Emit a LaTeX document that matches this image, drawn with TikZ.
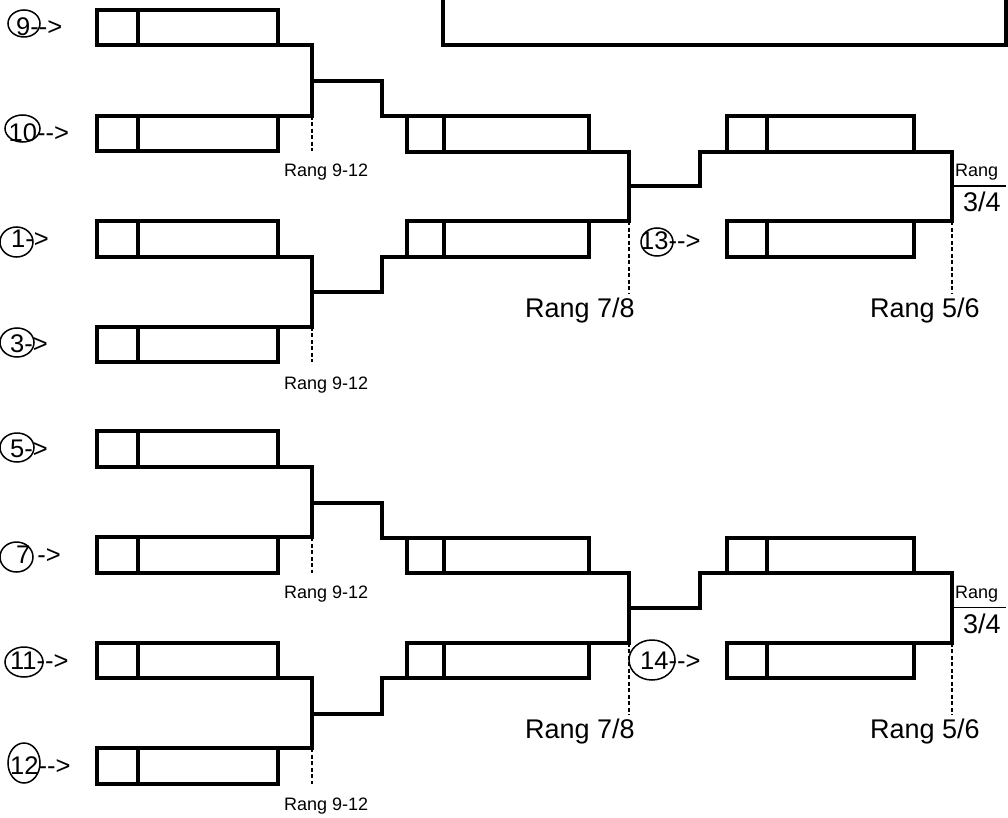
\documentclass[tikz,border=0pt]{standalone}
\usepackage{fontspec}
\setmainfont{Liberation Sans}
\usetikzlibrary{shapes.geometric,calc}
\tikzset{
 ln/.style={line width=4pt, line cap=rect, line join=miter},
 bx/.style={draw, line width=4pt, minimum height=35.5pt, inner sep=0pt, outer sep=0pt, rectangle},
 dsh/.style={line width=1.5pt, dash pattern=on 4pt off 2.5pt},
 thinline/.style={line width=1.5pt},
 ring/.style={draw, ellipse, line width=1.5pt, inner sep=0pt},
 lab/.style={anchor=base west, inner sep=0pt, font=\fontsize{25.5}{25.5}\selectfont},
 rsmall/.style={anchor=base west, inner sep=0pt, font=\fontsize{18}{18}\selectfont},
 rbig/.style={anchor=base west, inner sep=0pt, font=\fontsize{27}{27}\selectfont},
}
\newcommand\mydiv[2]{\draw[ln] ([xshift=#2]#1.north west) -- ([xshift=#2]#1.south west);}
\begin{document}
\begin{tikzpicture}[x=1pt,y=-1pt]
\useasboundingbox (0,0) rectangle (1008,818);
\clip (0,0) rectangle (1008,818);
% top box (cut by the upper edge)
\node[bx, minimum width=563pt, minimum height=75pt] (top) at (724.5,7.5) {};
\foreach \r/\dy in {a/0, b/421.5} {
 % column 1
 \node[bx, minimum width=181pt] (c1\r) at (187.5, 27.5+\dy) {};
 \node[bx, minimum width=181pt] (c2\r) at (187.5, 133.5+\dy) {};
 \node[bx, minimum width=181pt] (c3\r) at (187.5, 239+\dy) {};
 \node[bx, minimum width=181pt] (c4\r) at (187.5, 344.5+\dy) {};
 \mydiv{c1\r}{41pt}\mydiv{c2\r}{41pt}\mydiv{c3\r}{41pt}\mydiv{c4\r}{41pt}
 % column 2
 \node[bx, minimum width=182pt] (m1\r) at (498, 134+\dy) {};
 \node[bx, minimum width=182pt] (m2\r) at (498, 239+\dy) {};
 \mydiv{m1\r}{37pt}\mydiv{m2\r}{37pt}
 % column 3
 \node[bx, minimum width=187pt] (r1\r) at (820.5, 134+\dy) {};
 \node[bx, minimum width=187pt] (r2\r) at (820.5, 239+\dy) {};
 \mydiv{r1\r}{40pt}\mydiv{r2\r}{40pt}
 % junctions
 \coordinate (j1\r) at (312, 81+\dy);
 \coordinate (k1\r) at (382, 81+\dy);
 \coordinate (j2\r) at (312, 292+\dy);
 \coordinate (k2\r) at (382, 292+\dy);
 \coordinate (j3\r) at (629, 186+\dy);
 \coordinate (k3\r) at (700, 186+\dy);
 \coordinate (j4\r) at (952, 186+\dy);
 \coordinate (e4\r) at (1006, 186+\dy);
 \coordinate (d3\r) at (629, 293+\dy);
 \coordinate (d4\r) at (952, 293+\dy);
 % connectors
 \draw[ln] (c1\r.south east) -| (j1\r) |- (c2\r.north east);
 \draw[ln] (j1\r) -- (k1\r) |- (m1\r.north west);
 \draw[ln] (c3\r.south east) -| (j2\r) |- (c4\r.north east);
 \draw[ln] (j2\r) -- (k2\r) |- (m2\r.south west);
 \draw[ln] (m1\r.south east) -| (j3\r) |- (m2\r.north east);
 \draw[ln] (j3\r) -- (k3\r) |- (r1\r.south west);
 \draw[ln] (r1\r.south east) -| (j4\r) |- (r2\r.north east);
 \draw[thinline] (j4\r) -- (e4\r);
 % dashed drops
 \draw[dsh] (j1\r |- c2\r.north) -- (j1\r |- c2\r.south);
 \draw[dsh] (j2\r |- c4\r.north) -- (j2\r |- c4\r.south);
 \draw[dsh] (j3\r |- m2\r.north) -- (d3\r);
 \draw[dsh] (j4\r |- r2\r.north) -- (d4\r);
 % rank texts
 \node[rsmall] (ta\r) at (284, 177+\dy) {Rang 9-12};
 \node[rsmall] (tb\r) at (284, 389+\dy) {Rang 9-12};
 \node[rbig] (tc\r) at (525, 317+\dy) {Rang 7/8};
 \node[rbig] (td\r) at (870, 317+\dy) {Rang 5/6};
 \node[rsmall] (te\r) at (955, 177+\dy) {Rang};
 \node[rbig] (tf\r) at (963, 211.5+\dy) {3/4};
}
% entry labels
\node[ring, minimum width=32pt, minimum height=27pt] (o9) at (24,23.5) {};
\node[lab] (l9) at (16,35.5) {9-{}->};
\node[ring, minimum width=35pt, minimum height=27pt] (o10) at (22.5,128.5) {};
\node[lab] (l10) at (8.5,141.5) {10-{}->};
\node[ring, minimum width=33pt, minimum height=30pt] (o1) at (16.5,242) {};
\node[lab] (l1) at (11,247.5) {1->};
\node[ring, minimum width=34pt, minimum height=29pt] (o3) at (17,342.5) {};
\node[lab] (l3) at (10,352.5) {3->};
\node[ring, minimum width=34pt, minimum height=29pt] (o5) at (17,447.5) {};
\node[lab] (l5) at (10,457.5) {5->};
\node[ring, minimum width=33pt, minimum height=30pt] (o7) at (16.5,557) {};
\node[lab] (l7) at (16,563.5) {7 ->};
\node[ring, minimum width=38pt, minimum height=30pt] (o11) at (24,662) {};
\node[lab] (l11) at (10,669) {11-{}->};
\node[ring, minimum width=32pt, minimum height=40pt] (o12) at (24,763) {};
\node[lab] (l12) at (10,774.5) {12-{}->};
\node[ring, minimum width=32pt, minimum height=28pt] (o13) at (657,242) {};
\node[lab] (l13) at (640,249) {13-{}->};
\node[ring, minimum width=46pt, minimum height=40pt] (o14) at (652,660) {};
\node[lab] (l14) at (640,669) {14-{}->};
\end{tikzpicture}
\end{document}
